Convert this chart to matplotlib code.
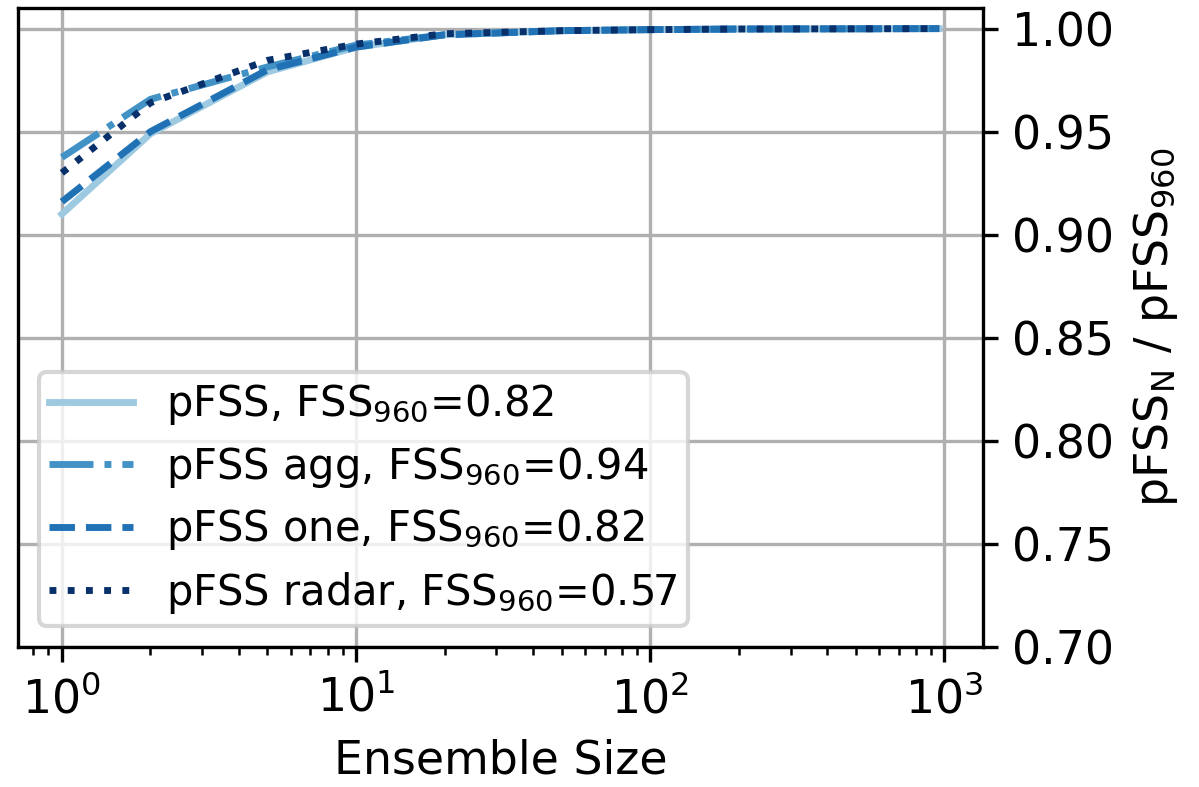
import numpy as np
import matplotlib
matplotlib.use('Agg')
import matplotlib.pyplot as plt

plt.rcParams['font.size'] = 11

ens_size = [1, 2, 5, 10, 20, 50, 100, 200, 500, 960]
pfss = [0.910, 0.949, 0.979, 0.991, 0.997, 0.999, 0.9995, 0.9998, 0.9999, 1.0]
pfss_agg = [0.9375, 0.9657, 0.9814, 0.992, 0.997, 0.999, 0.9995, 0.9998, 0.9999, 1.0]
pfss_one = [0.916, 0.950, 0.980, 0.991, 0.997, 0.999, 0.9995, 0.9998, 0.9999, 1.0]
pfss_radar = [0.930, 0.964, 0.9846, 0.9925, 0.9975, 0.999, 0.9995, 0.9998, 0.9999, 1.0]

labels = [r'pFSS, FSS$_{960}$=0.82',
          r'pFSS agg, FSS$_{960}$=0.94',
          r'pFSS one, FSS$_{960}$=0.82',
          r'pFSS radar, FSS$_{960}$=0.57']
colors = ['#9ecae1', '#4292c6', '#2171b5', '#08306b']
styles = ['-', '-.', '--', ':']

fig = plt.figure(figsize=(1199/300, 787/300), dpi=300)
ax = fig.add_axes([18/1199, 1-647/787, (983-18)/1199, (647-8)/787])

for y, lab, c, ls in zip([pfss, pfss_agg, pfss_one, pfss_radar], labels, colors, styles):
    ax.plot(ens_size, y, ls, color=c, label=lab, lw=1.65)

ax.set_xscale('log')
ax.set_ylim(0.70, 1.01)
ax.set_yticks(np.arange(0.70, 1.001, 0.05))
ax.yaxis.tick_right()
ax.yaxis.set_label_position('right')
ax.grid(True, which='major', color='#b0b0b0')
ax.set_xlabel('Ensemble Size')
ax.set_ylabel(r'pFSS$_{\mathrm{N}}$ / pFSS$_{960}$')
ax.legend(loc='lower left', fontsize=10, borderpad=0.25, labelspacing=0.42)

plt.savefig('out.png', dpi=300)
